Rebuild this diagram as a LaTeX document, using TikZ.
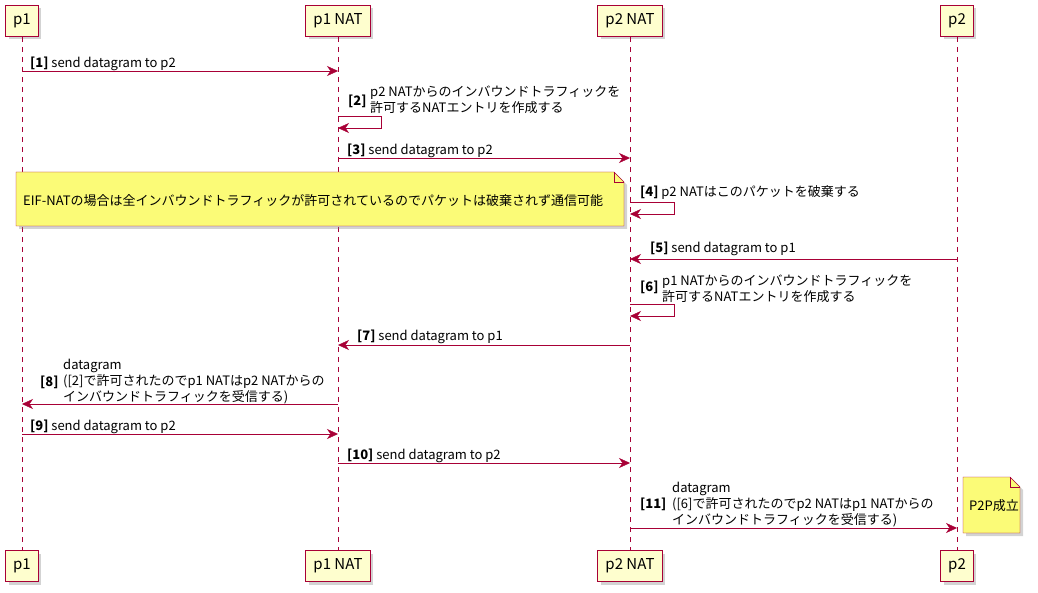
\documentclass[tikz,border=0pt]{standalone}
\usepackage{fontspec}
\setmainfont{Noto Sans CJK JP}
\usetikzlibrary{positioning,arrows.meta,shadows}
\definecolor{umlred}{HTML}{A80036}
\definecolor{partfill}{HTML}{FEFECE}
\definecolor{notefill}{HTML}{FBFB77}

\begin{document}
\begin{tikzpicture}[
        x=1pt, y=-1pt,
        font=\fontsize{13}{16}\selectfont,
        part/.style={draw=umlred, fill=partfill, line width=1pt, minimum height=31pt,
            inner xsep=7.5pt, font=\fontsize{15}{17}\selectfont,
            drop shadow={shadow xshift=3pt, shadow yshift=-3pt, opacity=0.35}},
        life/.style={draw=umlred, dash pattern=on 5pt off 5pt},
        msg/.style={draw=umlred, -{Stealth[length=11pt,width=10pt,inset=3.5pt]}},
        lab/.style={inner sep=0pt, anchor=west, align=left},
        num/.style={inner sep=0pt, anchor=west, font=\fontsize{13}{16}\selectfont\bfseries},
        note/.style={draw=umlred, fill=notefill,
            drop shadow={shadow xshift=3pt, shadow yshift=-3pt, opacity=0.35}}
    ]
        \useasboundingbox (0,0) rectangle (1038,593);

        % Participants
        \node[part] (p1t) at (22,21) {p1};
        \node[part] (n1t) at (338,21) {p1 NAT};
        \node[part] (n2t) at (630,21) {p2 NAT};
        \node[part] (p2t) at (957,21) {p2};
        \node[part] (p1b) at (22,566) {p1};
        \node[part] (n1b) at (338,566) {p1 NAT};
        \node[part] (n2b) at (630,566) {p2 NAT};
        \node[part] (p2b) at (957,566) {p2};

        % Lifelines
        \draw[life] (p1t) -- (p1b);
        \draw[life] (n1t) -- (n1b);
        \draw[life] (n2t) -- (n2b);
        \draw[life] (p2t) -- (p2b);

        % Message rows
        \coordinate (r1) at (0,71);
        \coordinate (r2a) at (0,116);
        \coordinate (r2b) at (0,128);
        \coordinate (r3) at (0,158);
        \coordinate (r4a) at (0,202);
        \coordinate (r4b) at (0,214);
        \coordinate (r5) at (0,259);
        \coordinate (r6a) at (0,304);
        \coordinate (r6b) at (0,316);
        \coordinate (r7) at (0,345);
        \coordinate (r8) at (0,404);
        \coordinate (r9) at (0,434);
        \coordinate (r10) at (0,463);
        \coordinate (r11) at (0,528);

        % Arrows
        \draw[msg] (p1t |- r1) -- (n1t |- r1);
        \draw[msg] (n1t |- r2a) -- ++(43,0) |- (n1t |- r2b);
        \draw[msg] (n1t |- r3) -- (n2t |- r3);
        \draw[msg] (n2t |- r4a) -- ++(44,0) |- (n2t |- r4b);
        \draw[msg] (p2t |- r5) -- (n2t |- r5);
        \draw[msg] (n2t |- r6a) -- ++(44,0) |- (n2t |- r6b);
        \draw[msg] (n2t |- r7) -- (n1t |- r7);
        \draw[msg] (n1t |- r8) -- (p1t |- r8);
        \draw[msg] (p1t |- r9) -- (n1t |- r9);
        \draw[msg] (n1t |- r10) -- (n2t |- r10);
        \draw[msg] (n2t |- r11) -- (p2t |- r11);

        % Labels
        \node[lab] (m1) at (30,63.5) {\textbf{[1]} send datagram to p2};
        \node[num] (k2) at (348,101.5) {[2]};
        \node[lab] (m2) at (370,99.5) {p2 NATからのインバウンドトラフィックを\\許可するNATエントリを作成する};
        \node[lab] (m3) at (347,150.5) {\textbf{[3]} send datagram to p2};
        \node[lab] (m4) at (640,192.5) {\textbf{[4]} p2 NATはこのパケットを破棄する};
        \node[lab] (m5) at (650,248.5) {\textbf{[5]} send datagram to p1};
        \node[num] (k6) at (640,287.5) {[6]};
        \node[lab] (m6) at (662,288.5) {p1 NATからのインバウンドトラフィックを\\許可するNATエントリを作成する};
        \node[lab] (m7) at (357,336.5) {\textbf{[7]} send datagram to p1};
        \node[num] (k8) at (40,382.5) {[8]};
        \node[lab] (m8) at (63,381.5) {datagram\\([2]で許可されたのでp1 NATはp2 NATからの\\インバウンドトラフィックを受信する)};
        \node[lab] (m9) at (30,426.5) {\textbf{[9]} send datagram to p2};
        \node[lab] (m10) at (347,455.5) {\textbf{[10]} send datagram to p2};
        \node[num] (k11) at (640,504.5) {[11]};
        \node[lab] (m11) at (672,504.5) {datagram\\([6]で許可されたのでp2 NATはp1 NATからの\\インバウンドトラフィックを受信する)};

        % Notes
        \draw[note] (16,172) -- (614,172) -- (624,182) -- (624,226) -- (16,226) -- cycle;
        \draw[umlred] (614,172) -- (614,182) -- (624,182);
        \node[lab] (eif) at (23,201) {EIF-NATの場合は全インバウンドトラフィックが許可されているのでパケットは破棄されず通信可能};

        \draw[note] (963,477) -- (1010,477) -- (1020,487) -- (1020,533) -- (963,533) -- cycle;
        \draw[umlred] (1010,477) -- (1010,487) -- (1020,487);
        \node[lab] (p2p) at (969,506) {P2P成立};

    \end{tikzpicture}
\end{document}
